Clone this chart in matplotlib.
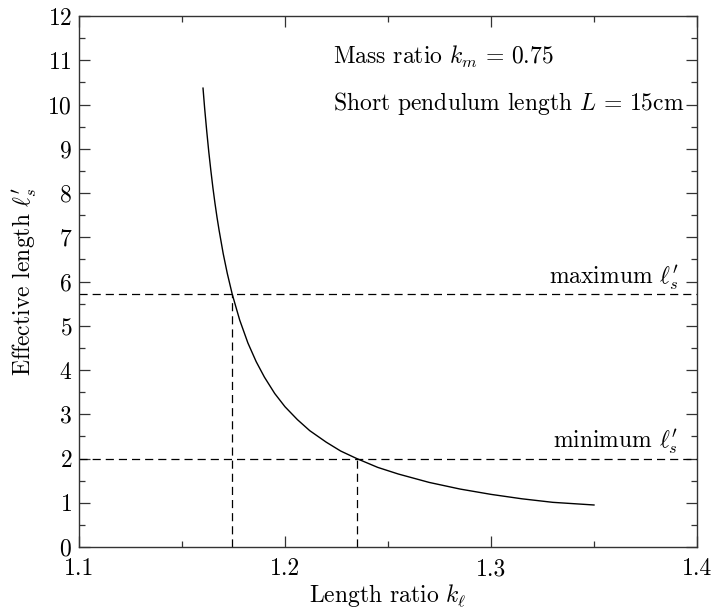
import numpy as np
import matplotlib.pyplot as plt
from matplotlib.ticker import MultipleLocator

plt.rcParams['font.family'] = 'serif'
plt.rcParams['font.serif'] = ['cmr10']
plt.rcParams['mathtext.fontset'] = 'cm'
plt.rcParams['axes.unicode_minus'] = False
plt.rcParams['axes.formatter.use_mathtext'] = True

# effective length vs length ratio
k_l = [1.1602, 1.161, 1.162, 1.163, 1.164, 1.165, 1.166, 1.167, 1.168, 1.170,
       1.172, 1.1744, 1.178, 1.182, 1.186, 1.190, 1.195, 1.200, 1.206, 1.212,
       1.220, 1.227, 1.2348, 1.245, 1.255, 1.270, 1.285, 1.300, 1.315, 1.330,
       1.350]
l_s = [10.37, 9.91, 9.40, 8.93, 8.51, 8.12, 7.77, 7.45, 7.16, 6.63,
       6.18, 5.71, 5.13, 4.61, 4.19, 3.84, 3.47, 3.17, 2.88, 2.63,
       2.37, 2.17, 2.00, 1.80, 1.65, 1.46, 1.31, 1.19, 1.09, 1.01,
       0.95]

l_max = 5.71
l_min = 2.00
k_at_max = 1.1744
k_at_min = 1.2348

fig = plt.figure(figsize=(7.15, 6.11), dpi=100)
ax = fig.add_axes([0.1105, 0.1047, 0.8643, 0.8691])

ax.plot(k_l, l_s, color='black', lw=1.0)

dash = dict(color='black', lw=0.9, dashes=(6.5, 4))
ax.axhline(l_max, **dash)
ax.axhline(l_min, **dash)
ax.plot([k_at_max, k_at_max], [0, l_max], **dash)
ax.plot([k_at_min, k_at_min], [0, l_min], **dash)

fs = 17
ax.text(1.391, l_max + 0.06, r"maximum $\ell_s^{\prime}$", ha='right', va='bottom', fontsize=fs)
ax.text(1.391, l_min + 0.06, r"minimum $\ell_s^{\prime}$", ha='right', va='bottom', fontsize=fs)
ax.text(1.2233, 11.07, r"Mass ratio $k_m\,=\,0.75$", ha='left', va='center', fontsize=fs)
ax.text(1.2233, 10.03, r"Short pendulum length $L\,=\,15$cm", ha='left', va='center', fontsize=fs)

ax.set_xlim(1.1, 1.4)
ax.set_ylim(0, 12)
ax.xaxis.set_major_locator(MultipleLocator(0.1))
ax.xaxis.set_minor_locator(MultipleLocator(0.05))
ax.yaxis.set_major_locator(MultipleLocator(1))
ax.yaxis.set_minor_locator(MultipleLocator(0.5))
ax.xaxis.set_major_formatter(plt.FuncFormatter(lambda v, p: f'{v:.1f}'))
ax.tick_params(which='both', direction='in', top=True, right=True, labelsize=fs, color='#333333')
ax.tick_params(which='major', length=8, width=0.9)
ax.tick_params(which='minor', length=4.5, width=0.9)
ax.tick_params(axis='x', which='major', pad=8)
ax.tick_params(axis='y', which='major', pad=5)
for s in ax.spines.values():
    s.set_linewidth(1.0)
    s.set_color('#333333')

ax.set_xlabel(r"Length ratio $k_\ell$", fontsize=fs, labelpad=1)
ax.set_ylabel(r"Effective length $\ell_s^{\prime}$", fontsize=fs, labelpad=6)

fig.savefig('out.png', dpi=100)
